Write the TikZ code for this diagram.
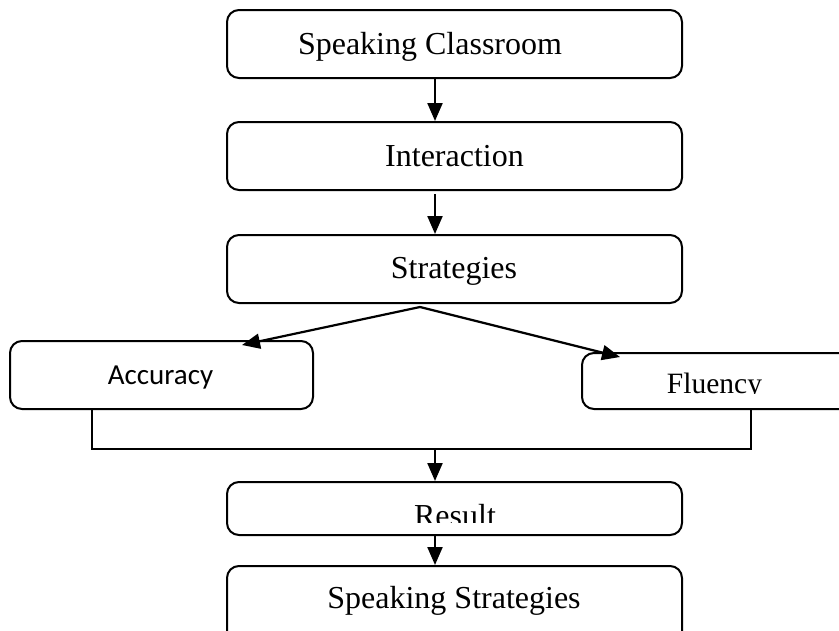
\documentclass[tikz,border=0pt]{standalone}
\usepackage{fontspec}
\setmainfont{Liberation Serif}
\newfontfamily\calfont{Carlito}
\usetikzlibrary{arrows.meta}
\tikzset{
  box/.style={draw=black, line width=2pt, rounded corners=12pt, fill=white, inner sep=0pt},
  lbl/.style={anchor=base, inner sep=0pt, font=\fontsize{32}{36}\selectfont},
  arr/.style={line width=2.2pt, -{Triangle[length=18pt,width=15pt]}},
  ln/.style={line width=2pt}
}
\begin{document}
\begin{tikzpicture}[x=1pt,y=-1pt]
\useasboundingbox (0,0) rectangle (839,630);
\fill[white] (0,0) rectangle (839,630);
\clip (0,0) rectangle (839,630);
% boxes
\node[box, minimum width=455pt, minimum height=68pt] (sc) at (454.5,44) {};
\node[box, minimum width=455pt, minimum height=68pt] (int) at (454.5,156) {};
\node[box, minimum width=455pt, minimum height=68pt] (str) at (454.5,269) {};
\node[box, minimum width=303pt, minimum height=68pt] (acc) at (161.5,375) {};
\node[box, minimum width=300pt, minimum height=56pt] (flu) at (732,381) {};
\node[box, minimum width=455pt, minimum height=53pt] (res) at (454.5,508.5) {};
\node[box, minimum width=455pt, minimum height=100pt] (ss) at (454.5,616) {};
% texts
\node[lbl] (tsc) at (430,54) {Speaking Classroom};
\node[lbl] (tint) at (454.5,166) {Interaction};
\node[lbl] (tstr) at (454,278) {Strategies};
\node[lbl, font=\calfont\fontsize{29}{33}\selectfont] (tacc) at (160.5,384) {Accuracy};
\begin{scope}
  \clip (582,360) rectangle (839,393.5);
  \node[lbl, font=\fontsize{29.5}{33}\selectfont] (tflu) at (714.5,393) {Fluency};
\end{scope}
\begin{scope}
  \clip (230,485) rectangle (680,522);
  \node[lbl] (tres) at (455,526) {Result};
\end{scope}
\node[lbl] (tss) at (454,608) {Speaking Strategies};
% connectors
\draw[arr] ([xshift=-19.5pt]sc.south) -- ([xshift=-19.5pt]int.north);
\draw[arr] ([xshift=-19.5pt,yshift=-3pt]int.south) -- ([xshift=-19.5pt]str.north);
\coordinate (apex) at (420,307);
\coordinate (accTip) at (242,345);
\coordinate (fluTip) at (620,357);
\draw[arr] (apex) -- (accTip);
\draw[arr] (apex) -- (fluTip);
\coordinate (accL) at (92,409);
\coordinate (fluL) at (751,409);
\draw[ln] (accL) -- (92,448.5) -- (751,448.5) -- (fluL);
\coordinate (mid) at (435,448.5);
\draw[arr] (mid) -- (res.north -| mid);
\draw[arr] (res.south -| mid) -- (ss.north -| mid);
\end{tikzpicture}
\end{document}
